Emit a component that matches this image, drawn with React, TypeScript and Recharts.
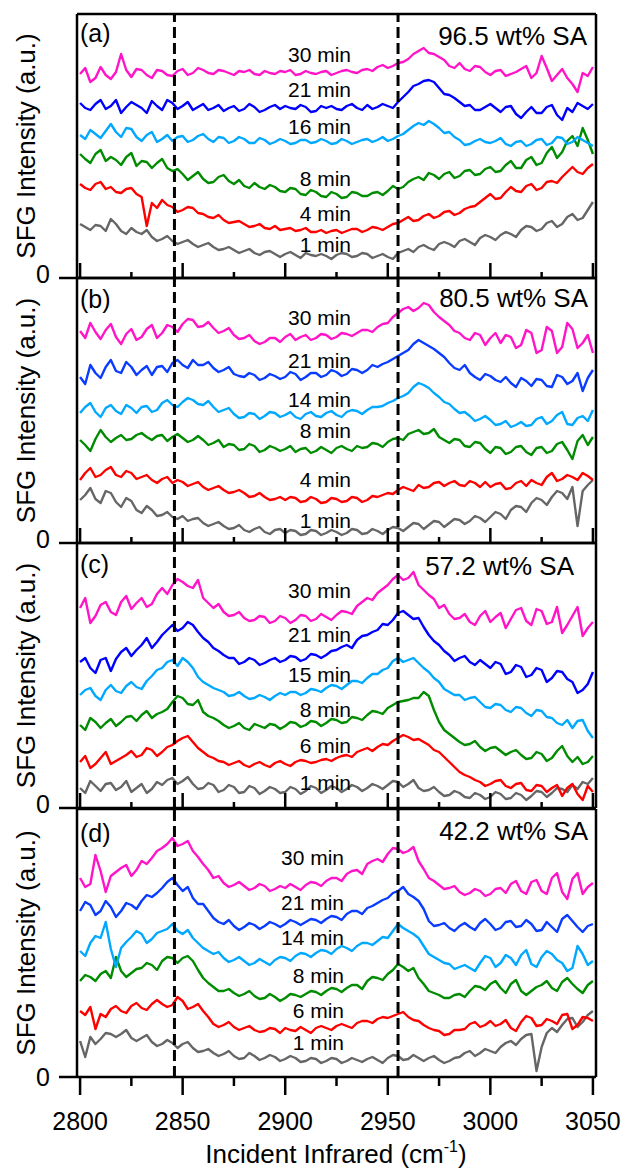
import { LineChart, Line, XAxis, YAxis, ReferenceLine } from 'recharts'

const FONT = '"Liberation Sans", Arial, Helvetica, sans-serif'

// x grid (cm-1), 2.5 cm-1 steps
const wavenumbers = [
  2800, 2802.5, 2805, 2807.5, 2810, 2812.5, 2815, 2817.5, 2820, 2822.5,
  2825, 2827.5, 2830, 2832.5, 2835, 2837.5, 2840, 2842.5, 2845, 2847.5,
  2850, 2852.5, 2855, 2857.5, 2860, 2862.5, 2865, 2867.5, 2870, 2872.5,
  2875, 2877.5, 2880, 2882.5, 2885, 2887.5, 2890, 2892.5, 2895, 2897.5,
  2900, 2902.5, 2905, 2907.5, 2910, 2912.5, 2915, 2917.5, 2920, 2922.5,
  2925, 2927.5, 2930, 2932.5, 2935, 2937.5, 2940, 2942.5, 2945, 2947.5,
  2950, 2952.5, 2955, 2957.5, 2960, 2962.5, 2965, 2967.5, 2970, 2972.5,
  2975, 2977.5, 2980, 2982.5, 2985, 2987.5, 2990, 2992.5, 2995, 2997.5,
  3000, 3002.5, 3005, 3007.5, 3010, 3012.5, 3015, 3017.5, 3020, 3022.5,
  3025, 3027.5, 3030, 3032.5, 3035, 3037.5, 3040, 3042.5, 3045, 3047.5,
  3050,
]
const xTicks = [2800, 2825, 2850, 2875, 2900, 2925, 2950, 2975, 3000, 3025, 3050]
const majorTicks = [2800, 2850, 2900, 2950, 3000, 3050]
const zeroTick = [0]
const peakLines = [2846, 2955]

// (a) 96.5 wt% SA — offset intensities (a.u.)
const a30 = [
  204, 210, 196, 200, 211, 203, 199, 206, 224, 208, 201, 209, 208, 203, 200, 208, 207, 203, 202, 207,
  209, 203, 205, 210, 208, 205, 204, 208, 207, 205, 203, 207, 206, 208, 204, 203, 207, 205, 204, 207,
  206, 208, 203, 204, 207, 205, 204, 206, 207, 203, 205, 207, 208, 206, 205, 208, 209, 207, 211, 213,
  210, 212, 215, 216, 219, 224, 227, 230, 225, 224, 221, 218, 212, 210, 215, 209, 207, 212, 211, 206,
  203, 207, 208, 202, 204, 206, 209, 212, 200, 205, 222, 210, 197, 203, 209, 200, 194, 186, 205, 202,
  211,
]
const a21 = [
  175, 170, 168, 174, 178, 169, 172, 178, 165, 171, 176, 173, 170, 165, 177, 172, 168, 178, 175, 169,
  172, 176, 168, 171, 174, 168, 170, 173, 167, 170, 172, 167, 169, 174, 171, 166, 168, 171, 173, 169,
  172, 170, 169, 173, 171, 166, 167, 172, 170, 172, 169, 168, 172, 174, 170, 168, 173, 169, 171, 174,
  172, 170, 176, 181, 186, 192, 194, 197, 198, 196, 190, 184, 183, 180, 176, 172, 173, 168, 168, 171,
  174, 170, 166, 171, 172, 164, 160, 166, 171, 165, 165, 171, 173, 163, 158, 170, 166, 175, 172, 169,
  174,
]
const a16 = [
  143, 139, 148, 144, 140, 147, 154, 146, 141, 150, 149, 141, 137, 143, 146, 136, 139, 143, 137, 141,
  142, 136, 138, 142, 144, 139, 136, 141, 140, 135, 137, 141, 139, 135, 135, 140, 138, 134, 136, 139,
  137, 134, 135, 138, 138, 135, 136, 139, 137, 134, 135, 139, 137, 134, 136, 138, 139, 136, 138, 141,
  137, 139, 142, 144, 148, 152, 155, 153, 157, 154, 150, 145, 146, 141, 138, 133, 134, 137, 139, 136,
  135, 137, 140, 134, 132, 136, 137, 132, 134, 138, 139, 133, 135, 141, 140, 134, 136, 141, 138, 135,
  132,
]
const a8 = [
  124, 119, 115, 124, 128, 117, 121, 118, 113, 121, 125, 112, 117, 116, 110, 115, 119, 110, 107, 109,
  104, 98, 102, 106, 99, 95, 96, 101, 103, 97, 94, 98, 92, 90, 95, 91, 89, 93, 91, 87,
  86, 90, 89, 84, 83, 88, 86, 82, 81, 86, 84, 80, 81, 86, 85, 82, 82, 85, 86, 83,
  87, 92, 89, 91, 96, 99, 101, 98, 105, 103, 99, 104, 106, 100, 102, 107, 108, 103, 104, 109,
  111, 106, 107, 113, 117, 110, 110, 118, 121, 113, 115, 125, 131, 120, 126, 137, 142, 132, 150, 138,
  124,
]
const a4 = [
  94, 90, 88, 94, 96, 89, 91, 86, 85, 89, 90, 84, 81, 52, 75, 70, 78, 73, 71, 66,
  68, 71, 70, 65, 64, 61, 60, 63, 58, 55, 56, 57, 54, 51, 52, 54, 50, 49, 52, 48,
  49, 50, 47, 48, 50, 46, 46, 48, 45, 47, 48, 45, 47, 49, 49, 46, 48, 51, 50, 48,
  51, 54, 55, 58, 61, 57, 58, 62, 64, 60, 62, 66, 67, 63, 65, 69, 71, 72, 76, 80,
  84, 79, 80, 86, 91, 87, 86, 92, 94, 88, 90, 96, 97, 95, 101, 106, 111, 106, 104, 110,
  114,
]
const a1 = [
  54, 51, 48, 53, 52, 47, 59, 54, 47, 44, 50, 46, 44, 48, 41, 37, 39, 42, 37, 34,
  36, 38, 34, 31, 33, 35, 31, 28, 29, 31, 28, 25, 27, 29, 25, 23, 26, 27, 24, 21,
  24, 26, 23, 20, 25, 23, 22, 24, 22, 19, 23, 25, 24, 21, 22, 25, 24, 20, 22, 24,
  21, 19, 25, 27, 29, 26, 31, 33, 30, 28, 34, 36, 34, 31, 37, 39, 36, 33, 40, 43,
  41, 38, 43, 46, 44, 41, 48, 52, 51, 47, 49, 55, 57, 51, 54, 61, 64, 58, 60, 68,
  76,
]

// (b) 80.5 wt% SA
const b30 = [
  212, 205, 220, 211, 204, 213, 219, 206, 199, 209, 214, 203, 206, 214, 218, 205, 210, 218, 216, 211,
  219, 224, 223, 216, 217, 221, 215, 210, 212, 215, 208, 204, 205, 208, 202, 199, 201, 205, 205, 201,
  206, 209, 203, 206, 208, 203, 205, 209, 208, 204, 206, 210, 209, 207, 210, 213, 213, 211, 216, 219,
  220, 226, 230, 234, 236, 232, 235, 240, 238, 231, 226, 222, 218, 212, 210, 205, 203, 210, 208, 198,
  205, 210, 200, 208, 206, 195, 198, 213, 210, 190, 193, 216, 212, 190, 196, 220, 214, 195, 200, 208,
  190,
]
const b21 = [
  166, 159, 178, 170, 165, 176, 183, 172, 170, 181, 176, 168, 173, 177, 168, 176, 177, 171, 180, 183,
  178, 175, 183, 178, 178, 181, 175, 171, 173, 176, 169, 167, 166, 170, 168, 163, 165, 169, 167, 164,
  166, 171, 169, 163, 166, 170, 170, 166, 168, 173, 171, 167, 169, 174, 173, 170, 173, 178, 176, 179,
  181, 184, 187, 190, 193, 199, 203, 200, 197, 194, 190, 186, 180, 175, 173, 178, 170, 166, 163, 169,
  167, 163, 161, 166, 160, 156, 165, 162, 157, 164, 163, 157, 156, 168, 166, 159, 162, 170, 152, 165,
  173,
]
const b14 = [
  130, 136, 140, 131, 126, 135, 138, 132, 129, 138, 135, 130, 136, 137, 131, 133, 140, 143, 138, 136,
  141, 145, 143, 139, 138, 142, 136, 131, 133, 135, 129, 125, 126, 130, 129, 124, 127, 131, 130, 126,
  128, 131, 126, 124, 129, 131, 127, 126, 130, 132, 128, 126, 131, 133, 132, 129, 133, 136, 136, 137,
  140, 142, 145, 147, 150, 156, 160, 158, 155, 150, 146, 141, 139, 134, 130, 131, 127, 122, 124, 127,
  123, 118, 119, 122, 116, 118, 121, 117, 118, 124, 126, 119, 122, 128, 131, 119, 118, 125, 127, 122,
  133,
]
const b8 = [
  103, 98, 92, 104, 113, 106, 101, 105, 108, 103, 104, 108, 110, 106, 103, 107, 108, 102, 106, 109,
  105, 101, 103, 107, 103, 98, 100, 103, 96, 99, 98, 93, 94, 99, 97, 91, 93, 97, 95, 92,
  94, 97, 91, 94, 95, 90, 92, 96, 93, 90, 95, 97, 94, 92, 97, 95, 96, 100, 99, 96,
  101, 104, 105, 103, 109, 111, 113, 109, 110, 114, 106, 103, 100, 104, 103, 97, 96, 101, 100, 94,
  90, 96, 95, 89, 91, 96, 97, 91, 88, 95, 96, 90, 92, 99, 101, 93, 84, 102, 108, 98,
  106,
]
const b4 = [
  63, 70, 75, 66, 68, 73, 76, 68, 66, 72, 70, 64, 66, 68, 63, 60, 64, 66, 60, 63,
  61, 57, 59, 61, 56, 53, 55, 57, 53, 50, 51, 53, 50, 46, 47, 50, 46, 43, 44, 46,
  43, 46, 45, 41, 42, 46, 44, 40, 41, 45, 44, 41, 42, 46, 45, 41, 43, 47, 46, 48,
  50, 49, 53, 56, 54, 52, 58, 55, 56, 60, 61, 57, 60, 62, 58, 57, 62, 60, 56, 61,
  56, 59, 60, 54, 55, 60, 62, 57, 63, 60, 58, 66, 70, 62, 64, 68, 66, 63, 70, 67,
  63,
]
const b1 = [
  43, 48, 55, 44, 40, 52, 50, 41, 36, 45, 42, 33, 30, 37, 33, 27, 28, 31, 26, 24,
  27, 22, 24, 25, 20, 17, 19, 21, 17, 14, 15, 18, 13, 11, 14, 16, 11, 9, 13, 14,
  10, 13, 12, 8, 9, 13, 12, 8, 10, 13, 11, 8, 10, 14, 13, 9, 10, 14, 12, 9,
  13, 16, 15, 12, 16, 20, 19, 14, 18, 22, 21, 16, 20, 24, 23, 19, 22, 27, 25, 21,
  26, 31, 29, 24, 33, 37, 36, 31, 40, 45, 43, 38, 46, 52, 50, 44, 56, 17, 52, 58,
  63,
]

// (c) 57.2 wt% SA
const c30 = [
  200, 210, 185, 192, 203, 206, 196, 193, 206, 212, 199, 205, 210, 201, 204, 214, 220, 214, 223, 229,
  226, 222, 220, 228, 210, 205, 200, 204, 196, 192, 193, 196, 190, 187, 188, 192, 191, 185, 187, 192,
  190, 185, 188, 193, 192, 187, 189, 194, 191, 188, 193, 197, 196, 194, 202, 206, 210, 208, 215, 219,
  223, 229, 233, 228, 230, 236, 223, 218, 213, 209, 200, 203, 194, 189, 190, 194, 186, 183, 192, 197,
  186, 191, 195, 180, 189, 198, 200, 187, 183, 199, 197, 184, 186, 201, 175, 183, 192, 201, 172, 180,
  186,
]
const c21 = [
  146, 150, 140, 135, 148, 150, 137, 149, 156, 160, 152, 158, 163, 170, 160, 166, 173, 178, 183, 177,
  180, 186, 183, 176, 170, 166, 160, 157, 153, 150, 150, 144, 146, 150, 148, 143, 145, 148, 150, 146,
  148, 152, 151, 147, 149, 154, 153, 150, 153, 157, 158, 161, 163, 160, 168, 172, 173, 176, 178, 184,
  183, 188, 195, 197, 193, 189, 190, 181, 173, 167, 163, 157, 153, 147, 150, 152, 146, 143, 148, 144,
  140, 146, 144, 134, 136, 143, 141, 131, 133, 140, 138, 126, 130, 137, 136, 129, 126, 115, 118, 124,
  136,
]
const c15 = [
  113, 118, 120, 112, 108, 118, 123, 117, 115, 122, 126, 121, 119, 127, 132, 138, 140, 146, 148, 142,
  150, 146, 140, 131, 126, 123, 120, 118, 116, 112, 113, 116, 112, 109, 110, 113, 111, 108, 112, 115,
  113, 116, 116, 113, 115, 119, 118, 116, 120, 123, 122, 119, 123, 127, 127, 125, 130, 134, 134, 138,
  140, 147, 150, 146, 148, 150, 145, 140, 136, 130, 126, 119, 116, 113, 113, 108, 110, 111, 106, 101,
  100, 104, 103, 98, 96, 101, 100, 95, 92, 98, 97, 91, 90, 85, 83, 88, 80, 87, 88, 77,
  70,
]
const c8 = [
  83, 78, 90, 86, 80, 85, 89, 82, 86, 91, 92, 87, 93, 97, 90, 94, 96, 99, 106, 112,
  110, 104, 103, 108, 96, 92, 90, 87, 83, 80, 82, 85, 80, 78, 84, 82, 80, 84, 83, 79,
  82, 86, 85, 81, 83, 87, 86, 82, 85, 89, 88, 85, 86, 91, 90, 88, 93, 97, 96, 94,
  100, 103, 106, 107, 108, 110, 110, 116, 112, 98, 86, 78, 74, 70, 66, 63, 64, 67, 61, 57,
  60, 61, 57, 53, 56, 58, 53, 49, 50, 56, 54, 47, 50, 57, 62, 52, 46, 51, 44, 46,
  52,
]
const c6 = [
  46, 52, 40, 44, 50, 56, 44, 47, 50, 53, 57, 51, 53, 60, 58, 52, 56, 61, 63, 67,
  70, 72, 66, 60, 56, 52, 50, 47, 46, 43, 45, 47, 43, 41, 44, 46, 43, 41, 45, 47,
  44, 42, 46, 48, 47, 45, 46, 48, 49, 47, 50, 52, 53, 51, 56, 58, 60, 57, 61, 64,
  63, 67, 70, 73, 71, 68, 69, 66, 63, 58, 56, 51, 46, 41, 36, 33, 31, 28, 26, 22,
  24, 27, 28, 22, 20, 24, 25, 18, 17, 23, 22, 16, 20, 23, 12, 20, 24, 14, 8, 22,
  16,
]
const c1 = [
  20, 15, 27, 22, 17, 24, 25, 18, 21, 27, 16, 20, 24, 15, 19, 26, 23, 28, 30, 24,
  27, 31, 24, 19, 20, 25, 23, 16, 18, 23, 21, 15, 16, 22, 20, 14, 17, 21, 19, 15,
  16, 21, 19, 14, 17, 22, 20, 15, 18, 22, 20, 16, 19, 23, 21, 17, 20, 24, 22, 19,
  23, 27, 26, 21, 24, 28, 20, 17, 18, 21, 16, 12, 13, 17, 15, 11, 10, 15, 13, 9,
  11, 16, 14, 9, 10, 15, 13, 8, 12, 17, 16, 11, 15, 20, 19, 16, 23, 19, 26, 24,
  30,
]

// (d) 42.2 wt% SA
const d30 = [
  199, 190, 193, 222, 206, 185, 201, 205, 209, 212, 201, 207, 216, 213, 219, 226, 229, 233, 239, 231,
  233, 236, 226, 220, 213, 207, 199, 201, 194, 190, 192, 195, 191, 187, 189, 193, 191, 186, 188, 191,
  189, 193, 190, 187, 192, 195, 194, 191, 196, 199, 199, 196, 203, 206, 207, 203, 213, 216, 218, 215,
  223, 229, 228, 224, 226, 230, 216, 208, 199, 196, 192, 188, 189, 191, 185, 182, 184, 188, 186, 181,
  183, 188, 189, 184, 193, 196, 186, 183, 195, 197, 186, 183, 199, 204, 185, 178, 198, 204, 183, 190,
  194,
]
const d21 = [
  166, 175, 172, 162, 166, 176, 170, 160, 166, 174, 172, 168, 176, 182, 180, 184, 189, 195, 199, 192,
  186, 190, 179, 173, 173, 166, 159, 155, 153, 157, 151, 147, 150, 154, 152, 148, 151, 155, 153, 150,
  153, 157, 155, 152, 155, 158, 157, 154, 158, 161, 160, 157, 163, 166, 166, 163, 169, 171, 174, 177,
  179, 184, 186, 190, 183, 180, 176, 168, 156, 151, 152, 154, 149, 146, 151, 154, 150, 147, 154, 158,
  153, 147, 149, 155, 156, 150, 151, 157, 153, 146, 147, 155, 150, 145, 158, 162, 156, 150, 145, 151,
  153,
]
const d14 = [
  126, 121, 134, 141, 139, 155, 128, 110, 129, 135, 140, 146, 143, 134, 138, 144, 146, 148, 153, 146,
  143, 147, 139, 134, 129, 126, 123, 125, 119, 115, 117, 120, 116, 112, 114, 118, 115, 112, 117, 120,
  119, 116, 121, 124, 123, 120, 124, 127, 126, 123, 128, 131, 129, 126, 131, 134, 134, 132, 136, 140,
  139, 146, 153, 149, 146, 143, 139, 131, 123, 120, 117, 114, 113, 108, 110, 112, 109, 106, 114, 121,
  119, 110, 114, 122, 119, 112, 122, 127, 113, 110, 120, 126, 123, 117, 114, 106, 109, 131, 123, 112,
  116,
]
const d8 = [
  96, 102, 100, 96, 103, 106, 99, 120, 106, 100, 104, 108, 109, 114, 112, 107, 116, 120, 119, 114,
  119, 121, 116, 107, 99, 94, 90, 86, 86, 88, 84, 81, 83, 86, 81, 78, 79, 83, 80, 76,
  79, 83, 82, 80, 83, 86, 85, 82, 86, 89, 88, 85, 89, 92, 92, 88, 96, 100, 99, 97,
  103, 107, 113, 110, 106, 109, 99, 93, 86, 84, 82, 79, 79, 82, 83, 80, 86, 91, 90, 87,
  93, 96, 89, 84, 93, 97, 86, 82, 86, 90, 92, 96, 89, 86, 95, 99, 93, 88, 84, 92,
  96,
]
const d6 = [
  66, 62, 70, 48, 63, 60, 68, 71, 66, 64, 71, 74, 69, 67, 73, 77, 73, 70, 72, 80,
  76, 68, 70, 73, 66, 60, 53, 50, 52, 55, 50, 47, 49, 51, 47, 45, 46, 49, 48, 44,
  49, 47, 46, 50, 47, 44, 49, 51, 49, 47, 51, 53, 51, 49, 54, 56, 56, 54, 58, 60,
  59, 61, 63, 65, 60, 57, 56, 52, 49, 47, 46, 42, 43, 47, 47, 48, 53, 55, 50, 52,
  56, 51, 53, 57, 49, 46, 55, 61, 59, 51, 52, 58, 56, 53, 62, 63, 48, 52, 60, 59,
  56,
]
const d1 = [
  36, 20, 40, 33, 38, 44, 43, 40, 43, 47, 39, 36, 39, 42, 35, 31, 33, 37, 34, 29,
  33, 35, 29, 25, 26, 28, 24, 21, 23, 26, 21, 18, 19, 24, 21, 17, 19, 22, 20, 16,
  18, 21, 19, 15, 16, 19, 18, 14, 16, 19, 18, 14, 16, 19, 17, 15, 18, 20, 17, 14,
  19, 22, 21, 17, 18, 22, 19, 16, 19, 21, 17, 14, 16, 19, 20, 24, 26, 21, 24, 28,
  26, 24, 30, 34, 36, 32, 38, 42, 43, 6, 30, 44, 49, 45, 52, 58, 59, 50, 55, 62,
  66,
]

const MAGENTA = '#ff14c8'
const BLUE = '#0000ff'
const BLUE2 = '#0a3cff'
const SKY = '#00a8ff'
const GREEN = '#008c00'
const RED = '#ff0000'
const GRAY = '#666666'

interface Trace { key: string; label: string; values: number[]; color: string; labelY: number }
interface Panel {
  letter: string
  conc: string
  top: number
  height: number
  letterY: number
  concY: number
  concRight: number
  labelRight: number
  traces: Trace[]
}

const panels: Panel[] = [
  {
    letter: '(a)', conc: '96.5 wt% SA', top: 14, height: 264, letterY: 42, concY: 45, concRight: 587, labelRight: 351,
    traces: [
      { key: 't30', label: '30 min', values: a30, color: MAGENTA, labelY: 62 },
      { key: 't21', label: '21 min', values: a21, color: BLUE, labelY: 97 },
      { key: 't16', label: '16 min', values: a16, color: SKY, labelY: 134 },
      { key: 't8', label: '8 min', values: a8, color: GREEN, labelY: 186 },
      { key: 't4', label: '4 min', values: a4, color: RED, labelY: 221 },
      { key: 't1', label: '1 min', values: a1, color: GRAY, labelY: 252 },
    ],
  },
  {
    letter: '(b)', conc: '80.5 wt% SA', top: 278, height: 265, letterY: 308, concY: 307, concRight: 588, labelRight: 351,
    traces: [
      { key: 't30', label: '30 min', values: b30, color: MAGENTA, labelY: 325 },
      { key: 't21', label: '21 min', values: b21, color: BLUE2, labelY: 368 },
      { key: 't14', label: '14 min', values: b14, color: SKY, labelY: 407 },
      { key: 't8', label: '8 min', values: b8, color: GREEN, labelY: 438 },
      { key: 't4', label: '4 min', values: b4, color: RED, labelY: 487 },
      { key: 't1', label: '1 min', values: b1, color: GRAY, labelY: 528 },
    ],
  },
  {
    letter: '(c)', conc: '57.2 wt% SA', top: 543, height: 265, letterY: 573, concY: 575, concRight: 574, labelRight: 351,
    traces: [
      { key: 't30', label: '30 min', values: c30, color: MAGENTA, labelY: 598 },
      { key: 't21', label: '21 min', values: c21, color: BLUE, labelY: 642 },
      { key: 't15', label: '15 min', values: c15, color: SKY, labelY: 682 },
      { key: 't8', label: '8 min', values: c8, color: GREEN, labelY: 717 },
      { key: 't6', label: '6 min', values: c6, color: RED, labelY: 753 },
      { key: 't1', label: '1 min', values: c1, color: GRAY, labelY: 790 },
    ],
  },
  {
    letter: '(d)', conc: '42.2 wt% SA', top: 809, height: 268, letterY: 842, concY: 840, concRight: 588, labelRight: 344,
    traces: [
      { key: 't30', label: '30 min', values: d30, color: MAGENTA, labelY: 865 },
      { key: 't21', label: '21 min', values: d21, color: BLUE2, labelY: 910 },
      { key: 't14', label: '14 min', values: d14, color: SKY, labelY: 945 },
      { key: 't8', label: '8 min', values: d8, color: GREEN, labelY: 983 },
      { key: 't6', label: '6 min', values: d6, color: RED, labelY: 1018 },
      { key: 't1', label: '1 min', values: d1, color: GRAY, labelY: 1050 },
    ],
  },
]

const buildRows = (traces: Trace[]) =>
  wavenumbers.map((wn, i) => {
    const row: Record<string, number> = { wn }
    traces.forEach((t) => { row[t.key] = t.values[i] })
    return row
  })

// inner ticks along the bottom of the upper panels
const InsideTick = (props: any) => {
  const { x, y, payload } = props
  const len = majorTicks.includes(payload.value) ? 15 : 6
  return <line x1={x} x2={x} y1={y} y2={y - len} stroke="#000" strokeWidth={2.5} />
}

// outer ticks + labels for the last panel
const OutsideTick = (props: any) => {
  const { x, y, payload } = props
  const major = majorTicks.includes(payload.value)
  return (
    <g>
      <line x1={x} x2={x} y1={y} y2={y + (major ? 18 : 9)} stroke="#000" strokeWidth={2.5} />
      {major && (
        <text x={x} y={y + 53} textAnchor="middle" fontSize={25} fontFamily={FONT} fill="#000">
          {payload.value}
        </text>
      )}
    </g>
  )
}

function SpectraPanel({ panel, last }: { panel: Panel; last: boolean }) {
  const rows = buildRows(panel.traces)
  const axisH = last ? 70 : 10
  const drawOrder = [...panel.traces].reverse()
  return (
    <div style={{ position: 'absolute', left: 0, top: panel.top - 10 }}>
      <LineChart
        width={624}
        height={10 + panel.height + axisH}
        data={rows}
        margin={{ top: 10, right: 28, bottom: 0, left: 0 }}
      >
        <XAxis
          dataKey="wn"
          type="number"
          domain={[2798.5, 3051.5]}
          ticks={xTicks}
          interval={0}
          height={axisH}
          tickLine={false}
          tickSize={0}
          tickMargin={0}
          axisLine={{ stroke: '#000', strokeWidth: 2.5 }}
          tick={last ? OutsideTick : InsideTick}
        />
        <YAxis
          type="number"
          domain={[0, panel.height]}
          ticks={zeroTick}
          width={77}
          tickSize={18}
          tickMargin={9}
          axisLine={{ stroke: '#000', strokeWidth: 2.5 }}
          tickLine={{ stroke: '#000', strokeWidth: 2.5 }}
          tick={{ fontSize: 25, fill: '#000', fontFamily: FONT }}
        />
        {drawOrder.map((t) => (
          <Line
            key={t.key}
            dataKey={t.key}
            type="linear"
            stroke={t.color}
            strokeWidth={2.4}
            strokeLinejoin="round"
            dot={false}
            isAnimationActive={false}
          />
        ))}
        {peakLines.map((x) => (
          <ReferenceLine key={x} x={x} stroke="#000" strokeWidth={3} strokeDasharray="11 5" />
        ))}
        <ReferenceLine y={panel.height} stroke="#000" strokeWidth={2.5} />
        <ReferenceLine x={3051.5} stroke="#000" strokeWidth={2.5} />
      </LineChart>
    </div>
  )
}

export default function App() {
  return (
    <div style={{ position: 'absolute', left: 0, top: 0, width: 624, height: 1170, background: '#fff' }}>
      {panels.map((p, i) => (
        <SpectraPanel key={p.letter} panel={p} last={i === panels.length - 1} />
      ))}
      <svg
        width={624}
        height={1170}
        style={{ position: 'absolute', left: 0, top: 0, pointerEvents: 'none' }}
        fontFamily={FONT}
        fill="#000"
      >
        {panels.map((p) => (
          <g key={p.letter}>
            <text
              transform={`translate(26 ${p.top + p.height / 2}) rotate(-90)`}
              textAnchor="middle"
              dominantBaseline="central"
              fontSize={26}
            >
              SFG Intensity (a.u.)
            </text>
            <text x={80} y={p.letterY} fontSize={25}>{p.letter}</text>
            <text x={p.concRight} y={p.concY} textAnchor="end" fontSize={26}>{p.conc}</text>
            {p.traces.map((t) => (
              <text key={t.key} x={p.labelRight} y={t.labelY} textAnchor="end" fontSize={21}>
                {t.label}
              </text>
            ))}
          </g>
        ))}
        <text x={336} y={1163} textAnchor="middle" fontSize={26}>
          Incident Infrared (cm<tspan dy={-11} fontSize={16}>-1</tspan>
          <tspan dy={11}>)</tspan>
        </text>
      </svg>
    </div>
  )
}
